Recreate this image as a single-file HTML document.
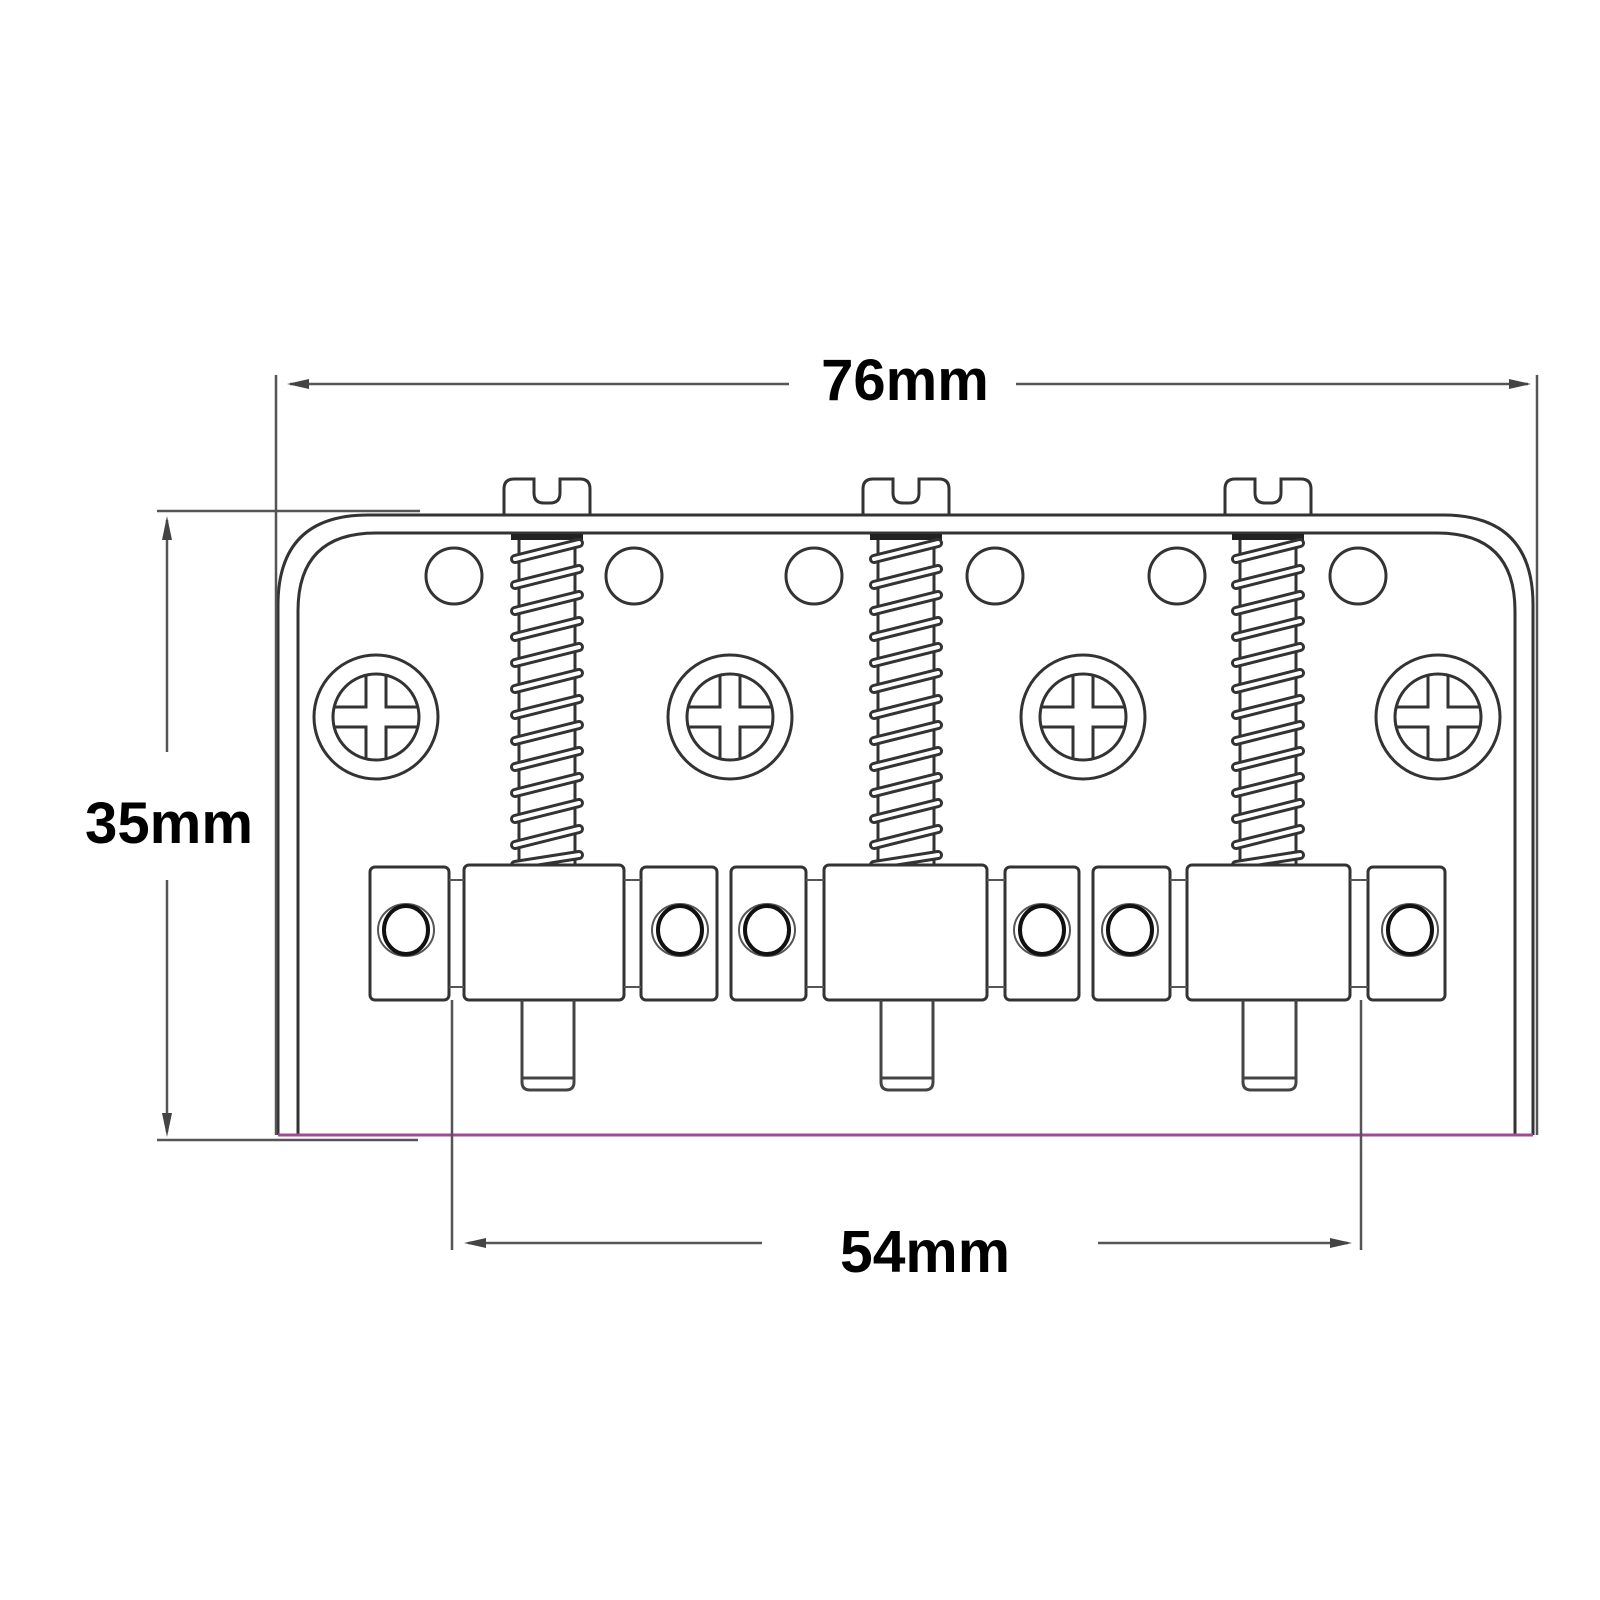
<!DOCTYPE html>
<html><head><meta charset="utf-8"><style>
html,body{margin:0;padding:0;background:#fff}
svg{display:block}
text{font-family:"Liberation Sans",Arial,sans-serif;font-weight:bold;fill:#000}
</style></head><body>
<svg width="1600" height="1600" viewBox="0 0 1600 1600" xmlns="http://www.w3.org/2000/svg">
<defs>
<g id="ph">
  <circle r="62" fill="none" stroke="#333" stroke-width="3"/>
  <circle r="43" fill="none" stroke="#333" stroke-width="3"/>
  <path d="M-10,-42 V-10 H-42 M10,-42 V-10 H42 M-10,42 V10 H-42 M10,42 V10 H42" fill="none" stroke="#333" stroke-width="3"/>
</g>
<g id="scr">
  <path d="M-43,36 V10 Q-43,0 -33,0 H-13 V14 Q-13,24 -3,24 H3 Q13,24 13,14 V0 H33 Q43,0 43,10 V36" fill="none" stroke="#333" stroke-width="3"/>
  <line x1="-28" y1="58" x2="-28" y2="386" stroke="#333" stroke-width="3"/>
  <line x1="28" y1="58" x2="28" y2="386" stroke="#333" stroke-width="3"/>
  <rect x="-36" y="55" width="72" height="6" fill="#222"/>
  <g stroke="#333" stroke-width="10" stroke-linecap="round">
    <line x1="-32" y1="80" x2="32" y2="64"/><line x1="-32" y1="106" x2="32" y2="90"/><line x1="-32" y1="132" x2="32" y2="116"/><line x1="-32" y1="158" x2="32" y2="142"/><line x1="-32" y1="184" x2="32" y2="168"/><line x1="-32" y1="210" x2="32" y2="194"/><line x1="-32" y1="236" x2="32" y2="220"/><line x1="-32" y1="262" x2="32" y2="246"/><line x1="-32" y1="288" x2="32" y2="272"/><line x1="-32" y1="314" x2="32" y2="298"/><line x1="-32" y1="340" x2="32" y2="324"/><line x1="-32" y1="366" x2="32" y2="350"/><line x1="-32" y1="386" x2="32" y2="376"/>
  </g>
  <g stroke="#fff" stroke-width="4" stroke-linecap="round">
    <line x1="-32" y1="80" x2="32" y2="64"/><line x1="-32" y1="106" x2="32" y2="90"/><line x1="-32" y1="132" x2="32" y2="116"/><line x1="-32" y1="158" x2="32" y2="142"/><line x1="-32" y1="184" x2="32" y2="168"/><line x1="-32" y1="210" x2="32" y2="194"/><line x1="-32" y1="236" x2="32" y2="220"/><line x1="-32" y1="262" x2="32" y2="246"/><line x1="-32" y1="288" x2="32" y2="272"/><line x1="-32" y1="314" x2="32" y2="298"/><line x1="-32" y1="340" x2="32" y2="324"/><line x1="-32" y1="366" x2="32" y2="350"/><line x1="-32" y1="386" x2="32" y2="376"/>
  </g>
</g>
<g id="hole">
  <ellipse rx="28" ry="26" fill="none" stroke="#555" stroke-width="2"/>
  <ellipse rx="22" ry="24" fill="none" stroke="#111" stroke-width="4"/>
</g>
</defs>

<!-- plate -->
<path d="M278,1135 V605 Q278,515 368,515 H1443 Q1533,515 1533,605 V1135" fill="none" stroke="#333" stroke-width="3"/>
<path d="M298,1135 V611 Q298,533 376,533 H1437 Q1515,533 1515,611 V1135" fill="none" stroke="#333" stroke-width="3"/>
<line x1="278" y1="1135" x2="1533" y2="1135" stroke="#a04a9a" stroke-width="3"/>

<!-- small holes -->
<g fill="none" stroke="#333" stroke-width="3">
<circle cx="454" cy="576" r="28"/><circle cx="634" cy="576" r="28"/><circle cx="814" cy="576" r="28"/><circle cx="995" cy="576" r="28"/><circle cx="1177" cy="576" r="28"/><circle cx="1358" cy="576" r="28"/>
</g>

<use href="#ph" x="376" y="717"/><use href="#ph" x="730" y="717"/><use href="#ph" x="1083" y="717"/><use href="#ph" x="1438" y="717"/>

<use href="#scr" x="547" y="479"/><use href="#scr" x="906" y="479"/><use href="#scr" x="1268" y="479"/>

<!-- saddles -->
<g fill="#fff" stroke="#333" stroke-width="3">
<rect x="370" y="867" width="79" height="133" rx="5"/><rect x="464" y="865" width="160" height="135" rx="5"/><rect x="641" y="867" width="76" height="133" rx="5"/>
<rect x="731" y="867" width="75" height="133" rx="5"/><rect x="824" y="865" width="163" height="135" rx="5"/><rect x="1005" y="867" width="74" height="133" rx="5"/>
<rect x="1093" y="867" width="77" height="133" rx="5"/><rect x="1187" y="865" width="163" height="135" rx="5"/><rect x="1368" y="867" width="77" height="133" rx="5"/>
</g>
<g fill="none" stroke="#555" stroke-width="2">
<path d="M449,880 h15 M449,987 h15 M624,880 h17 M624,987 h17 M806,880 h18 M806,987 h18 M987,880 h18 M987,987 h18 M1170,880 h17 M1170,987 h17 M1350,880 h18 M1350,987 h18"/>
</g>
<use href="#hole" x="406" y="930"/><use href="#hole" x="680" y="930"/><use href="#hole" x="767" y="930"/><use href="#hole" x="1042" y="930"/><use href="#hole" x="1130" y="930"/><use href="#hole" x="1410" y="930"/>
<!-- pins -->
<g fill="none" stroke="#444" stroke-width="3">
<path d="M522,1000 V1082 Q522,1090 530,1090 H566 Q574,1090 574,1082 V1000 M522,1078 H574"/>
<path d="M881,1000 V1082 Q881,1090 889,1090 H925 Q933,1090 933,1082 V1000 M881,1078 H933"/>
<path d="M1243,1000 V1082 Q1243,1090 1251,1090 H1288 Q1296,1090 1296,1082 V1000 M1243,1078 H1296"/>
</g>

<!-- dimensions -->
<g stroke="#555" stroke-width="2.5" fill="none">
<line x1="276" y1="375" x2="276" y2="1135"/><line x1="1537" y1="375" x2="1537" y2="1135"/>
<line x1="290" y1="384" x2="789" y2="384"/><line x1="1016" y1="384" x2="1528" y2="384"/>
<line x1="157" y1="511" x2="420" y2="511"/><line x1="157" y1="1140" x2="418" y2="1140"/>
<line x1="167" y1="520" x2="167" y2="752"/><line x1="167" y1="880" x2="167" y2="1132"/>
<line x1="452" y1="1000" x2="452" y2="1250"/><line x1="1361" y1="1000" x2="1361" y2="1250"/>
<line x1="468" y1="1243" x2="762" y2="1243"/><line x1="1098" y1="1243" x2="1348" y2="1243"/>
</g>
<g fill="#444">
<polygon points="287,384 309,379 309,389"/><polygon points="1531,384 1509,379 1509,389"/>
<polygon points="167,516 162,540 172,540"/><polygon points="167,1137 162,1113 172,1113"/>
<polygon points="464,1243 486,1238 486,1248"/><polygon points="1352,1243 1330,1238 1330,1248"/>
</g>
<text x="905" y="400" font-size="58" text-anchor="middle">76mm</text>
<text x="85" y="843" font-size="58" textLength="168" lengthAdjust="spacingAndGlyphs">35mm</text>
<text x="840" y="1272" font-size="59" textLength="170" lengthAdjust="spacingAndGlyphs">54mm</text>
</svg>
</body></html>
